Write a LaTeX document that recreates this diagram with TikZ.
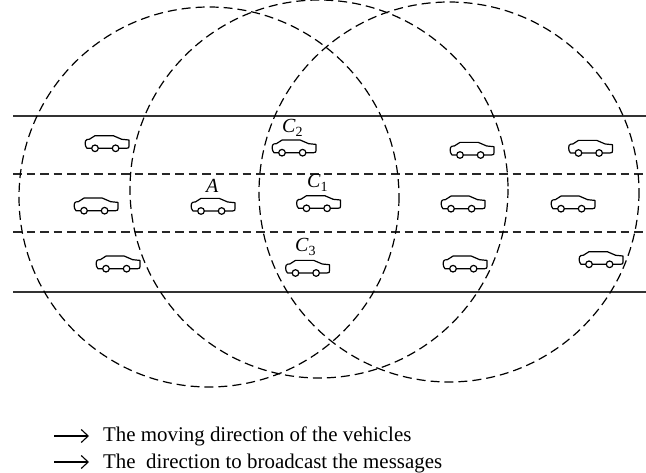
\documentclass[tikz,border=0pt]{standalone}
\usepackage{fontspec}
\setmainfont{Liberation Serif}
\usepackage{tikz}
\usetikzlibrary{arrows.meta}
\newcommand{\Csub}[1]{\textit{C}\raisebox{-4pt}{\fontsize{14}{14}\selectfont #1}}
\tikzset{
  rangecircle/.style={draw=black, dash pattern=on 9pt off 5pt, line width=1.2pt},
  road/.style={line width=1.2pt, draw=black!80},
  lane/.style={line width=1.3pt, dash pattern=on 8.7pt off 4.8pt, draw=black!85},
  lbl/.style={inner sep=0pt, anchor=base west, font=\fontsize{20}{20}\selectfont},
  legend/.style={inner sep=0pt, anchor=base west, font=\fontsize{20.9}{21}\selectfont},
  legendarrow/.style={-{Straight Barb[length=7pt,width=13pt]}, line width=1.1pt, shorten >=14pt},
  car/.pic={
    \draw[line width=1.2pt, line join=round] (-8.8,5.3) -- (5,5.3) (11.9,5.3) -- (19.5,5.3)
      .. controls (21.8,5.3) and (22,4.5) .. (22,3) -- (22,-3) -- (14.7,-3.7) -- (6.3,-7.3) -- (-12,-7.3) -- (-17.7,-3.7)
      -- (-20,-3.5) .. controls (-22.5,-3) and (-22.5,3) .. (-20,5.3) -- (-15.3,5.3);
    \draw[line width=1.2pt] (-12,5.3) circle[radius=3.3];
    \draw[line width=1.2pt] (8.6,5.3) circle[radius=3.3];
  }
}
\begin{document}
\begin{tikzpicture}[x=1pt, y=-1pt]
\useasboundingbox (0,0) rectangle (646,473);

% road
\draw[road] (13,116) -- (646,116);
\draw[road] (13,292) -- (646,292);
\draw[lane] (13,174) -- (646,174);
\draw[lane] (13,232) -- (646,232);

% broadcast ranges
\draw[rangecircle] (209,197) circle[radius=190];
\draw[rangecircle] (319,189) circle[radius=189];
\draw[rangecircle] (449,192) circle[radius=190];

% vehicles
\foreach \cx/\cy in {107/143, 96/205.4, 118/263.4, 213/205.7, 294/147.4, 318.5/203, 307.5/267.7,
                     472/149.7, 463/203.4, 465/263.4, 590.5/147.7, 573/203.4, 601/259}
  \pic at (\cx,\cy) {car};

\node[lbl] (A)  at (206,193) {\textit{A}};
\node[lbl] (C2) at (282,133) {\Csub{2}};
\node[lbl] (C1) at (307,188) {\Csub{1}};
\node[lbl] (C3) at (295,252) {\Csub{3}};

% legend
\node[legend] (moving) at (103,441) {The moving direction of the vehicles};
\node[legend] (broadcast) at (103,468) {The\ \ direction to broadcast the messages};
\coordinate (M) at (54,436);
\coordinate (B) at (54,462);
\draw[legendarrow] (M) -- (moving.west |- M);
\draw[legendarrow] (B) -- (broadcast.west |- B);
\end{tikzpicture}
\end{document}
